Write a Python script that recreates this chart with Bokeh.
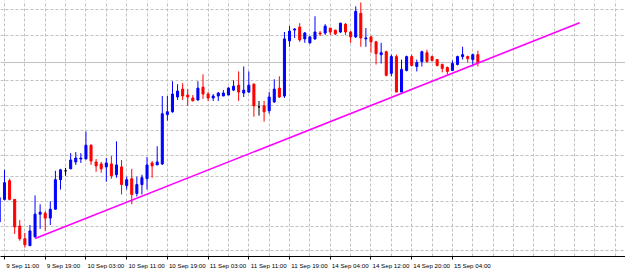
import numpy as np
from bokeh.plotting import figure
from bokeh.models import Range1d, FixedTicker, ColumnDataSource, Span
from bokeh.embed import file_html
from bokeh.resources import INLINE

# Hourly candles; index 0 = 9 Sep 11:00 (weekend hours are skipped), first candle is index -1
first_index = -1
open_ = [35, 58, 77, 58, 31, 18, 11, 20, 43, 44, 39, 48, 78, 87, 89, 96, 99, 99, 113, 96,
         94, 91, 94, 83, 91, 72, 79, 64, 73, 79, 95, 93, 94, 144, 147, 162, 170, 164, 161, 159,
         172, 165, 161, 163, 163, 164, 169, 174, 166, 167, 175, 152, 153, 148, 157, 171, 163, 219, 230, 233,
         221, 217, 221, 227, 227, 232, 230, 228, 236, 228, 223, 247, 221, 223, 218, 205, 208, 186, 203, 167,
         189, 203, 193, 198, 207, 203, 200, 195, 192, 189, 195, 203, 203, 200, 205]
high = [64, 88, 79, 58, 37, 24, 32, 62, 53, 46, 56, 87, 89, 90, 105, 106, 105, 127, 114, 99,
        96, 100, 102, 117, 98, 81, 89, 81, 83, 101, 97, 112, 163, 163, 178, 175, 176, 170, 164, 178,
        185, 167, 165, 167, 169, 172, 179, 188, 193, 188, 176, 158, 158, 167, 180, 183, 228, 234, 232, 237,
        228, 224, 244, 229, 236, 232, 230, 237, 237, 229, 254, 258, 232, 224, 219, 217, 209, 205, 205, 200,
        204, 205, 200, 209, 210, 204, 200, 196, 193, 199, 204, 213, 204, 206, 209]
low = [34, 57, 57, 23, 16, 9, 11, 19, 28, 26, 32, 48, 68, 82, 89, 93, 95, 99, 93, 86,
       85, 76, 79, 80, 63, 68, 53, 61, 63, 68, 80, 93, 93, 138, 146, 159, 159, 153, 158, 158,
       160, 158, 158, 158, 163, 164, 168, 158, 162, 166, 142, 143, 137, 145, 156, 161, 161, 213, 222, 218,
       217, 216, 220, 224, 225, 225, 225, 227, 225, 217, 222, 213, 213, 207, 195, 196, 183, 183, 167, 167,
       188, 193, 188, 193, 197, 198, 193, 187, 185, 189, 194, 200, 197, 193, 193]
close = [60, 75, 58, 30, 18, 12, 26, 43, 45, 39, 48, 78, 88, 87, 98, 100, 100, 113, 97, 92,
         89, 95, 82, 93, 73, 78, 63, 73, 80, 93, 92, 96, 145, 147, 165, 168, 163, 162, 158, 171,
         165, 161, 163, 166, 166, 171, 173, 167, 169, 174, 153, 152, 147, 162, 170, 162, 221, 229, 231, 220,
         227, 223, 228, 226, 234, 228, 226, 237, 228, 223, 249, 222, 222, 218, 206, 207, 184, 203, 167, 190,
         203, 194, 197, 208, 198, 199, 194, 191, 188, 196, 203, 205, 201, 205, 197]

tick_index = [0, 8, 16, 24, 32, 40, 48, 56, 64, 72, 80, 88]
tick_labels = ["9 Sep 11:00", "9 Sep 19:00", "10 Sep 03:00", "10 Sep 11:00", "10 Sep 19:00",
               "11 Sep 03:00", "11 Sep 11:00", "11 Sep 19:00", "14 Sep 04:00", "14 Sep 12:00",
               "14 Sep 20:00", "15 Sep 04:00"]
grid_index = list(range(0, 124, 4))
grid_levels = [250.7, 224.7, 179, 153.3, 127.7, 102.7, 81.7, 56.3, 30.7, 5.7]
trend_index = [6, 113]
trend_price = [18.3, 237.3]

# ---- layout / style ----
W, H = 625, 271
px_per_bar = 5.09
x_left = -4 / px_per_bar
x_right = x_left + W / px_per_bar
FONT = "Liberation Sans"
FS = 6.2

n = len(open_)
xs = np.arange(n) + first_index
o = np.array(open_, float)
c = np.array(close, float)
colors = ["#0000ff" if cc > oo else ("#ff0000" if cc < oo else "#000000") for oo, cc in zip(o, c)]
src = ColumnDataSource(dict(x=xs, top=np.maximum(o, c), bottom=np.minimum(o, c),
                            high=high, low=low, color=colors))

p = figure(width=W, height=H, x_range=Range1d(x_left, x_right), y_range=Range1d(0, 260),
           output_backend="svg", toolbar_location=None, y_axis_location=None,
           min_border_left=0, min_border_right=0, min_border_top=0, min_border_bottom=11)
p.outline_line_color = None
p.background_fill_color = "white"
p.border_fill_color = "white"

# grids
p.xgrid.ticker = FixedTicker(ticks=grid_index)
p.ygrid.ticker = FixedTicker(ticks=grid_levels)
for g in (p.xgrid, p.ygrid):
    g.grid_line_color = "#c0c0c0"
    g.grid_line_dash = "3 2"
    g.grid_line_width = 1

# bid line
p.add_layout(Span(location=close[-1], dimension="width", line_color="#c0c0c0",
                  line_width=1, level="underlay"))

# candles
p.segment(x0="x", y0="low", x1="x", y1="high", color="color", line_width=1, source=src)
p.vbar(x="x", width=0.4, top="top", bottom="bottom", fill_color="color",
       line_color="color", line_width=1, source=src)

# trend line
p.line(trend_index, trend_price, color="#ff00ff", line_width=1.6)

# x axis: labels left-aligned to the right of their tick marks
em = {"0": .556, "1": .556, "2": .556, "3": .556, "4": .556, "5": .556, "6": .556,
      "7": .556, "8": .556, "9": .556, " ": .278, ":": .278, "S": .667, "e": .556, "p": .556}
label_pos = []
for t, lab in zip(tick_index, tick_labels):
    w = sum(em.get(ch, .556) for ch in lab) * FS
    label_pos.append(round(t + (1.5 + w / 2) / px_per_bar, 3))
ax = p.xaxis[0]
ax.ticker = FixedTicker(ticks=label_pos, minor_ticks=tick_index)
ax.major_label_overrides = {pos: lab for pos, lab in zip(label_pos, tick_labels)}
ax.major_tick_out = 0
ax.major_tick_in = 0
ax.minor_tick_out = 3
ax.minor_tick_in = 0
ax.minor_tick_line_color = "black"
ax.axis_line_color = "black"
ax.axis_line_width = 1
ax.major_label_standoff = 2
ax.major_label_text_font = FONT
ax.major_label_text_font_size = f"{FS}px"
ax.major_label_text_color = "black"

open("out.html", "w").write(file_html(p, INLINE))
